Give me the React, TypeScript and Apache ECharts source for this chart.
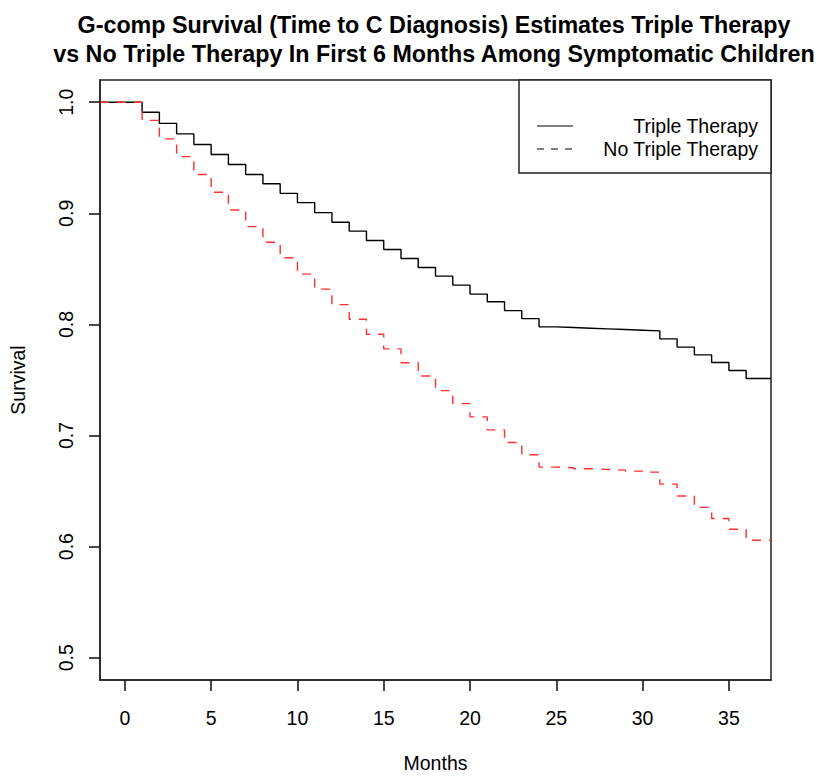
import React, { useEffect, useRef } from "react";
import * as echarts from "echarts";

const TITLE_LINES = [
  "G-comp Survival (Time to C Diagnosis) Estimates Triple Therapy",
  "vs No Triple Therapy In First 6 Months Among Symptomatic Children",
];
const X_LABEL = "Months";
const Y_LABEL = "Survival";
const LEGEND_LABELS = ["Triple Therapy", "No Triple Therapy"];

const xTicks = [0, 5, 10, 15, 20, 25, 30, 35];
const yTicks = [0.5, 0.6, 0.7, 0.8, 0.9, 1.0];
const X_MIN = -1.44;
const X_MAX = 37.44;
const Y_MIN = 0.48;
const Y_MAX = 1.02;

const months = [
  0, 1, 2, 3, 4, 5, 6, 7, 8, 9, 10, 11, 12, 13, 14, 15, 16, 17, 18, 19, 20,
  21, 22, 23, 24, 25, 26, 27, 28, 29, 30, 31, 32, 33, 34, 35, 36,
];

const tripleTherapy = [
  1.0, 0.991, 0.981, 0.9715, 0.962, 0.953, 0.944, 0.935, 0.9266, 0.918,
  0.9096, 0.9006, 0.892, 0.884, 0.8755, 0.8674, 0.8594, 0.8513, 0.8435,
  0.8354, 0.8273, 0.8204, 0.8124, 0.8052, 0.7978, 0.7972, 0.7966, 0.796,
  0.7954, 0.7948, 0.7942, 0.787, 0.7796, 0.7726, 0.7657, 0.7586, 0.7514,
];

const noTripleTherapy = [
  1.0, 0.9837, 0.967, 0.951, 0.935, 0.919, 0.903, 0.888, 0.874, 0.86,
  0.8453, 0.8318, 0.8178, 0.8047, 0.7912, 0.778, 0.7655, 0.7536, 0.7404,
  0.7287, 0.7168, 0.7051, 0.6937, 0.6827, 0.6716, 0.671, 0.6701, 0.6695,
  0.6689, 0.668, 0.6671, 0.6563, 0.6456, 0.6354, 0.6253, 0.6157, 0.6058,
];

const FONT = "'Liberation Sans', Arial, Helvetica, sans-serif";
const FS = 19.5;
const TICK_LEN = 11;

function stepData(values: number[]) {
  const pts: number[][] = [[X_MIN, values[0]]];
  months.forEach((m, i) => pts.push([m, values[i]]));
  pts.push([X_MAX, values[values.length - 1]]);
  return pts;
}

export default function App() {
  const ref = useRef<HTMLDivElement>(null);

  useEffect(() => {
    if (!ref.current) return;
    const chart = echarts.init(ref.current, undefined, { renderer: "svg" });
    const gridLeft = 99;
    const gridTop = 80;
    const gridW = 672;
    const gridH = 602;
    const legX = 519;
    const legW = gridLeft + gridW - legX;
    const tickStyle = { color: "#1a1a1a", width: 1.6 };

    chart.setOption({
      animation: false,
      backgroundColor: "#ffffff",
      title: {
        text: TITLE_LINES.join("\n"),
        left: 429,
        top: 5,
        textAlign: "center",
        textStyle: {
          fontFamily: FONT,
          fontWeight: "bold",
          fontSize: 23.3,
          lineHeight: 29,
          color: "#000",
        },
      },
      grid: {
        left: gridLeft,
        top: gridTop,
        width: gridW,
        height: gridH,
        show: true,
        borderColor: "#222",
        borderWidth: 1.5,
      },
      xAxis: {
        type: "value",
        min: X_MIN,
        max: X_MAX,
        name: X_LABEL,
        nameLocation: "middle",
        nameGap: 73,
        nameTextStyle: { fontFamily: FONT, fontSize: FS, color: "#000" },
        axisLine: { show: true, onZero: false, lineStyle: { color: "#222", width: 1.5 } },
        splitLine: { show: false },
        axisTick: {
          show: true,
          length: TICK_LEN,
          customValues: xTicks,
          lineStyle: tickStyle,
        },
        axisLabel: {
          customValues: xTicks,
          margin: 28,
          fontFamily: FONT,
          fontSize: FS,
          color: "#000",
        },
      },
      yAxis: {
        type: "value",
        min: Y_MIN,
        max: Y_MAX,
        name: Y_LABEL,
        nameLocation: "middle",
        nameRotate: 90,
        nameGap: 72,
        nameTextStyle: { fontFamily: FONT, fontSize: FS, color: "#000" },
        axisLine: { show: true, onZero: false, lineStyle: { color: "#222", width: 1.5 } },
        splitLine: { show: false },
        axisTick: {
          show: true,
          length: TICK_LEN,
          customValues: yTicks,
          lineStyle: tickStyle,
        },
        axisLabel: {
          customValues: yTicks,
          rotate: 90,
          margin: 24,
          fontFamily: FONT,
          fontSize: FS,
          color: "#000",
          formatter: (v: number) => v.toFixed(1),
        },
      },
      series: [
        {
          name: LEGEND_LABELS[0],
          type: "line",
          step: "end",
          showSymbol: false,
          symbol: "none",
          data: stepData(tripleTherapy),
          lineStyle: { color: "#000", width: 1.4, type: "solid" },
          z: 2,
        },
        {
          name: LEGEND_LABELS[1],
          type: "line",
          step: "end",
          showSymbol: false,
          symbol: "none",
          data: stepData(noTripleTherapy),
          lineStyle: { color: "#ff3030", width: 1.4, type: [9, 8] },
          z: 3,
        },
      ],
      graphic: [
        {
          type: "rect",
          shape: { x: legX, y: gridTop, width: legW, height: 93 },
          style: { fill: "#fff", stroke: "#222", lineWidth: 1.5 },
          z: 10,
        },
        {
          type: "line",
          shape: { x1: 537, y1: 126, x2: 573, y2: 126 },
          style: { stroke: "#000", lineWidth: 1.2 },
          z: 11,
        },
        {
          type: "line",
          shape: { x1: 537, y1: 149, x2: 573, y2: 149 },
          style: { stroke: "#000", lineWidth: 1.2, lineDash: [7, 7] },
          z: 11,
        },
        {
          type: "text",
          x: 758,
          y: 126,
          style: {
            text: LEGEND_LABELS[0],
            align: "right",
            verticalAlign: "middle",
            font: `${FS}px ${FONT}`,
            fill: "#000",
          },
          z: 11,
        },
        {
          type: "text",
          x: 758,
          y: 149,
          style: {
            text: LEGEND_LABELS[1],
            align: "right",
            verticalAlign: "middle",
            font: `${FS}px ${FONT}`,
            fill: "#000",
          },
          z: 11,
        },
      ],
    });

    return () => chart.dispose();
  }, []);

  return (
    <div
      ref={ref}
      style={{ position: "absolute", left: 0, top: 0, width: 820, height: 778 }}
    />
  );
}
